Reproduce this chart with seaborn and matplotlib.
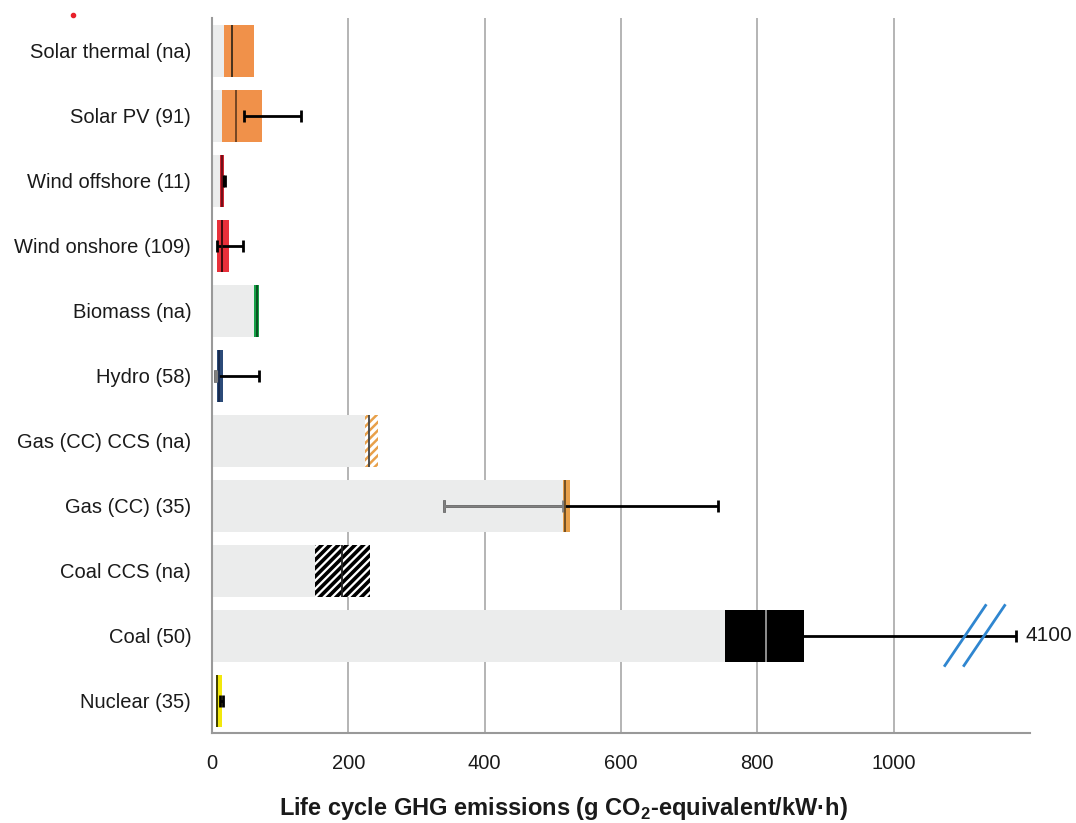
import numpy as np
import matplotlib
matplotlib.use('Agg')
import matplotlib.pyplot as plt
import seaborn as sns
from matplotlib.lines import Line2D

# Data
categories = ['Solar thermal (na)', 'Solar PV (91)', 'Wind offshore (11)', 'Wind onshore (109)',
              'Biomass (na)', 'Hydro (58)', 'Gas (CC) CCS (na)', 'Gas (CC) (35)',
              'Coal CCS (na)', 'Coal (50)', 'Nuclear (35)']
base = [18, 15, 17, 0, 62, 0, 224, 515, 151, 753, 0]          # grey lead-in bar
box_lo = [18, 15, 12, 8, 62, 7, 224, 515, 151, 753, 6]
box_hi = [62, 73, 18, 25, 69, 16, 244, 525, 232, 869, 15]
median = [29, 35, 14, 14, 66, 10, 231, 518, 190, 813, 7]
err_lo = [np.nan, 47, 16, 8, np.nan, 4, np.nan, 340, np.nan, 840, 12]
err_hi = [np.nan, 131, 19, 46, np.nan, 69, np.nan, 743, np.nan, 1179, 16]
grey_low_whisker = [False, False, False, False, False, True, False, True, False, False, False]
coal_max_label = '4100'
coal_break_at = 1115

box_colors = ['#f0914a', '#f0914a', '#d02430', '#e8303a', '#14a046', '#2b4a78',
              'white', '#e8a04a', 'white', 'black', '#f2e80c']
hatch_colors = [None] * 6 + ['#e8a04a', None, 'black', None, None]
median_colors = ['#3a2a1a', '#6a4020', '#6a1018', '#300a0a', '#0a4a20', '#16284a',
                 '#444444', '#6a4a20', '#222222', '#9a9a9a', '#333300']

sns.set_style('white')
plt.rcParams['font.family'] = ['Liberation Sans', 'DejaVu Sans']
plt.rcParams['mathtext.fontset'] = 'custom'
plt.rcParams['mathtext.rm'] = 'Liberation Sans'
plt.rcParams['mathtext.bf'] = 'Liberation Sans:bold'

fig = plt.figure(figsize=(10.76, 8.23), dpi=100)
ax = fig.add_axes([212 / 1076, 1 - 733 / 823, (1030 - 212) / 1076, (733 - 18) / 823])

# grey lead-in bars
sns.barplot(x=base, y=categories, color='#ebecec', orient='h', width=0.8,
            linewidth=0, saturation=1, ax=ax, zorder=1)

ypos = np.arange(len(categories))
for i in range(len(categories)):
    hc = hatch_colors[i]
    if hc is None:
        ax.barh(ypos[i], box_hi[i] - box_lo[i], left=box_lo[i], height=0.8,
                color=box_colors[i], linewidth=0, zorder=3)
    else:
        hlw = 2.6 if hc == 'black' else 1.8
        plt.rcParams['hatch.linewidth'] = hlw
        bars = ax.barh(ypos[i], box_hi[i] - box_lo[i], left=box_lo[i], height=0.8,
                       facecolor='white', edgecolor=hc, hatch='////', linewidth=0, zorder=3)
        for b in bars:
            if hasattr(b, 'set_hatch_linewidth'):
                b.set_hatch_linewidth(hlw)

    if not np.isnan(err_lo[i]):
        ax.errorbar(err_lo[i], ypos[i], xerr=[[0], [err_hi[i] - err_lo[i]]], fmt='none',
                    ecolor='black', elinewidth=2, capsize=4, capthick=2, zorder=4)
        if grey_low_whisker[i]:
            ax.errorbar(err_lo[i], ypos[i], xerr=[[0], [box_lo[i] - err_lo[i]]], fmt='none',
                        ecolor='#808080', elinewidth=2, capsize=4, capthick=2, zorder=4.5)
    ax.vlines(median[i], ypos[i] - 0.4, ypos[i] + 0.4, colors=median_colors[i],
              linewidth=1.3, zorder=5)

# coal: long tail to 4100 with axis break marks
ax.text(err_hi[9] + 14, ypos[9], coal_max_label, va='center', ha='left', fontsize=15,
        color='#1a1a1a', clip_on=False)
for dx in (-10, 18):
    ax.plot([coal_break_at + dx - 31, coal_break_at + dx + 31], [ypos[9] + 0.48, ypos[9] - 0.48],
            color='#2f86d0', linewidth=2, zorder=6, solid_capstyle='butt')

ax.set_xlim(0, 1200)
ax.set_ylim(len(categories) - 0.5, -0.5)
ax.set_xticks([0, 200, 400, 600, 800, 1000])
ax.grid(axis='x', color='#a0a0a0', linewidth=1.1)
ax.grid(axis='y', visible=False)
for gl in ax.get_xgridlines():
    gl.set_zorder(2)

ax.set_yticks(ypos)
ax.set_yticklabels(categories)
ax.set_yticks(np.arange(-0.5, len(categories)), minor=True)
ax.tick_params(axis='y', which='major', length=0, pad=15, labelsize=14.5, labelcolor='#1a1a1a')
ax.tick_params(axis='y', which='minor', length=7, width=1.2, color='#999999')
ax.tick_params(axis='x', which='major', length=7, width=1.2, color='#aaaaaa',
               labelsize=14.5, labelcolor='#1a1a1a', pad=8)

for s in ['top', 'right']:
    ax.spines[s].set_visible(False)
for s in ['left', 'bottom']:
    ax.spines[s].set_color('#999999')
    ax.spines[s].set_linewidth(1.5)

ax.set_ylabel('')
ax.set_xlabel(r'Life cycle GHG emissions (g CO$_{\mathbf{2}}$-equivalent/kW·h)',
              fontsize=17, fontweight='bold', color='#1a1a1a')
ax.xaxis.set_label_coords(0.43, -0.105)
ax.xaxis.label.set_va('center')

# small red mark in the top-left corner
fig.add_artist(Line2D([73 / 1076], [1 - 15 / 823], marker='o', markersize=3,
                      color='#e8202a', linestyle='none', transform=fig.transFigure))

fig.savefig('out.png', dpi=100)
